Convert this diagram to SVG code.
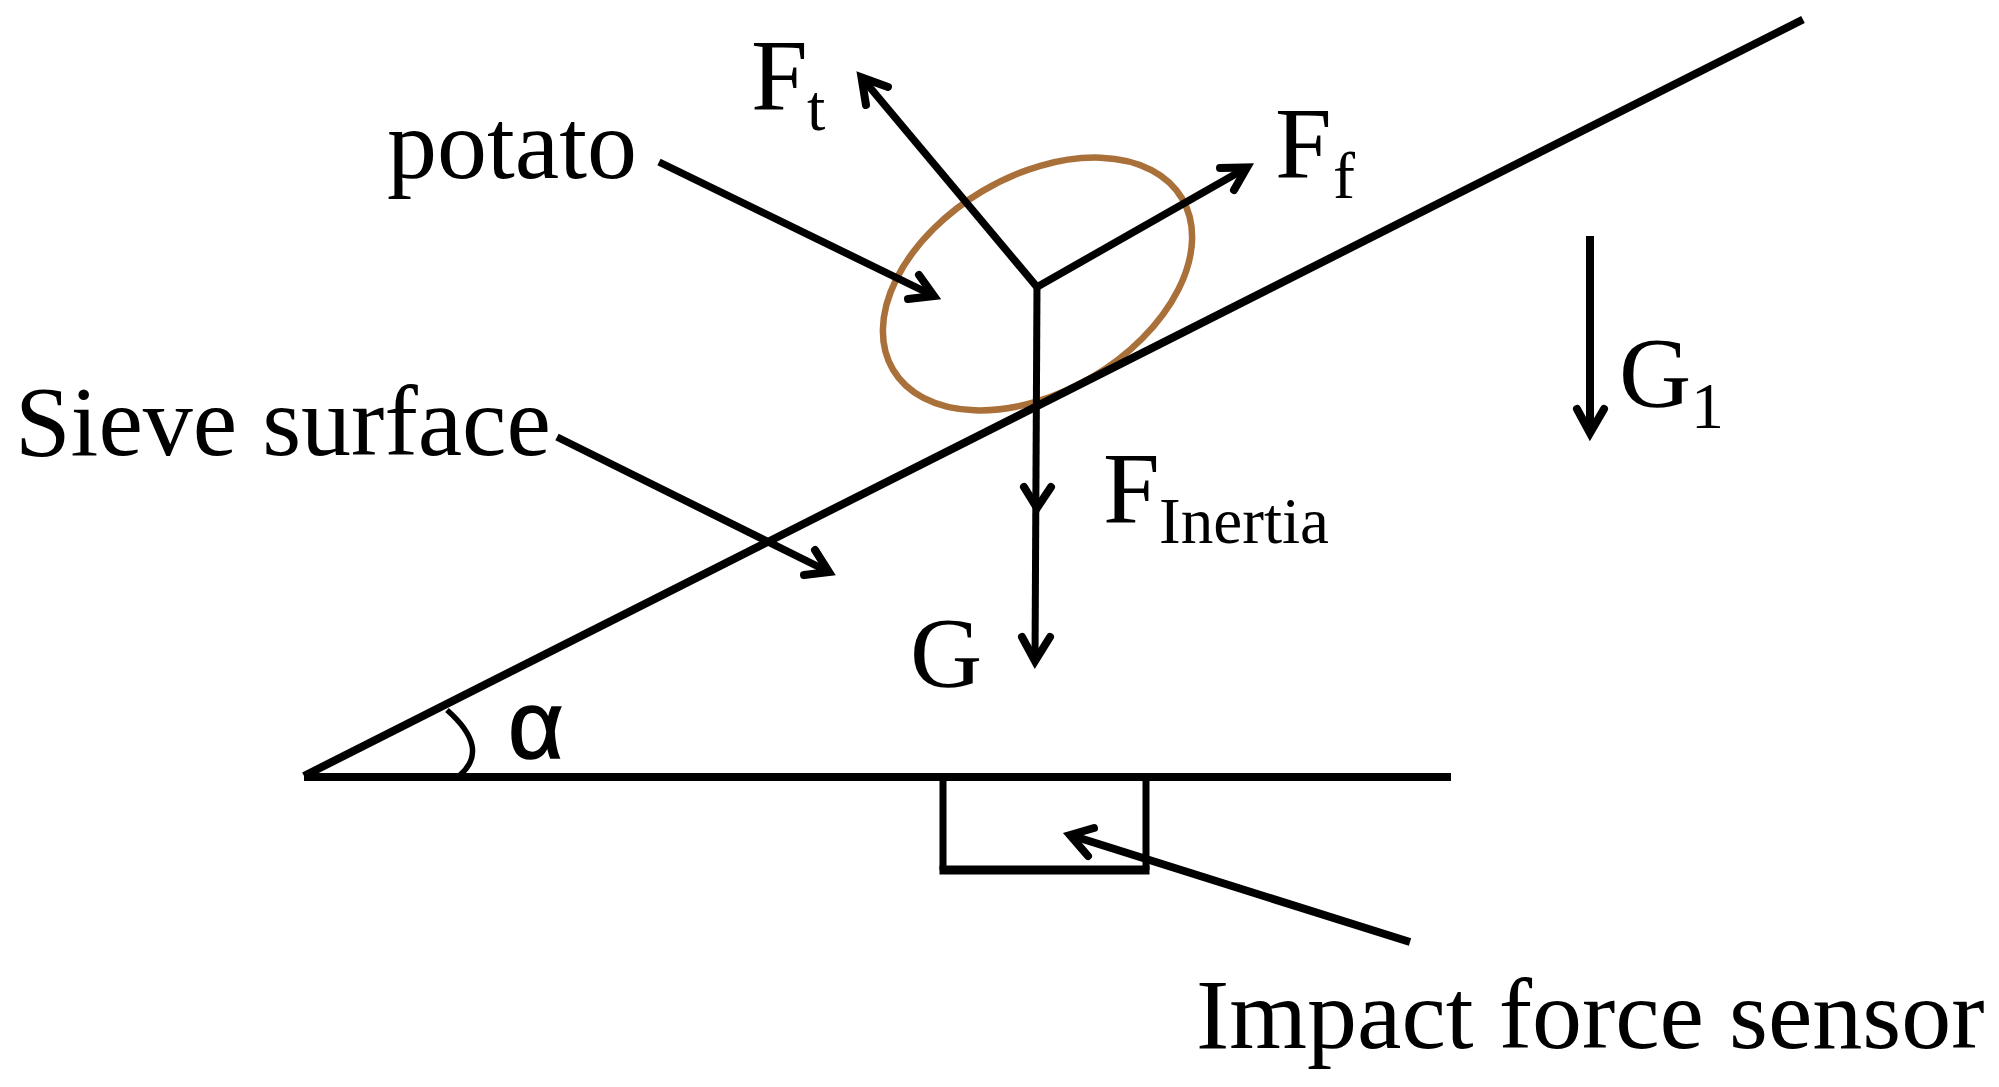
<svg xmlns="http://www.w3.org/2000/svg" width="1999" height="1087" viewBox="0 0 1999 1087">
<style>
text{font-family:"Liberation Serif","Times New Roman",serif;fill:#000}
.main{font-size:100px}
.cap{font-size:102px}
.sub{font-size:66px}
.ln{stroke:#000;fill:none;stroke-linecap:butt;stroke-linejoin:miter}
.head{stroke:#000;fill:none;stroke-width:8;stroke-linecap:round;stroke-linejoin:miter}
</style>
<rect width="1999" height="1087" fill="#fff"/>
<g id="potato"><ellipse cx="1037.5" cy="284" rx="168" ry="108" transform="rotate(-30.7 1037.5 284)" fill="none" stroke="#a9703a" stroke-width="6.5"/></g>
<g id="structure">
<path class="ln" stroke-width="8" stroke-linecap="round" d="M304 776L1803 19.5"/>
<path class="ln" stroke-width="8" stroke-linecap="round" d="M304 777H1451"/>
<path class="ln" stroke-width="7" d="M943 777V870M1146 777V870"/>
<path class="ln" stroke-width="9" d="M939.5 870H1149.5"/>
<path class="ln" stroke-width="5.5" d="M447 710Q490.5 748.5 460 775"/>
</g>
<g id="connectors">
<path class="ln" stroke-width="7.5" d="M1037 287L861.5 77.4"/><path class="head" d="M888 87L861.5 77.4L866 105"/>
<path class="ln" stroke-width="7.5" d="M1037 287L1247 167.5"/><path class="head" d="M1220 168L1247 167.5L1234 190"/>
<path class="ln" stroke-width="7" d="M1037 285L1035 661"/><path class="head" d="M1022 637L1035 661L1050 637"/><path class="head" d="M1024 487L1037 508L1051 487"/>
<path class="ln" stroke-width="7.5" d="M659 162L934 296"/><path class="head" d="M919 275L934 296L908 299"/>
<path class="ln" stroke-width="7.5" d="M557 437L829 572"/><path class="head" d="M815 550L829 572L804 575"/>
<path class="ln" stroke-width="8" d="M1410 942L1070 835"/><path class="head" d="M1094 828L1070 835L1088 856"/>
<path class="ln" stroke-width="8" d="M1590 236V433"/><path class="head" d="M1577 409L1590 433L1604 409"/>
</g>
<g id="labels">
<text class="cap" x="751" y="110">F</text><text class="sub" x="807" y="130">t</text>
<text class="cap" x="1275" y="178">F</text><text class="sub" x="1333" y="198">f</text>
<text class="main" x="387" y="178">potato</text>
<text class="main" x="15" y="455">Sieve surface</text>
<text class="cap" x="1103" y="523">F</text><text class="sub" x="1159" y="543" textLength="170" lengthAdjust="spacingAndGlyphs">Inertia</text>
<text class="main" x="910" y="686">G</text>
<text class="main" x="1619" y="406">G</text><text class="sub" x="1691" y="428">1</text>
<text x="508" y="758" style="font-family:'Liberation Sans',sans-serif;font-size:96px;stroke:#000;stroke-width:1.5">α</text>
<text class="main" x="1196" y="1048">Impact force sensor</text>
</g>
</svg>
